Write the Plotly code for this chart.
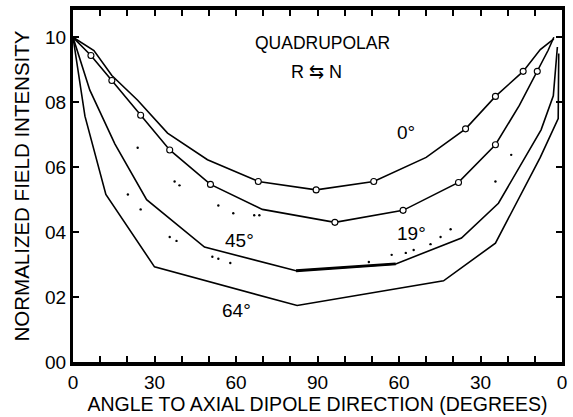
import plotly.graph_objects as go

# Normalized field intensity vs. angle to the axial dipole direction
# (0-90 on one side, back down to 0 on the other => 0..180 internal scale)
x_0 = [0, 7.7, 14.3, 23.8, 34.8, 49.5, 68.2, 89.5, 110.7, 130, 144.5, 155.5, 165.7, 172, 177]
y_0 = [1.0, 0.959, 0.882, 0.806, 0.705, 0.623, 0.556, 0.53, 0.556, 0.63, 0.718, 0.818, 0.895, 0.962, 0.995]

x_19 = [0, 6.6, 14.3, 24.9, 35.6, 50.6, 69.7, 96.4, 121.5, 141.9, 155.5, 164.3, 170.9, 174.9, 177]
y_19 = [1.0, 0.944, 0.867, 0.76, 0.653, 0.547, 0.47, 0.43, 0.467, 0.553, 0.669, 0.79, 0.895, 0.96, 1.0]

x_45 = [0, 6.2, 15.4, 27.1, 48.4, 82.1, 118.8, 143, 156.6, 165, 172.3, 176.8, 178.3]
y_45 = [1.0, 0.837, 0.672, 0.50, 0.354, 0.281, 0.302, 0.382, 0.489, 0.61, 0.715, 0.82, 0.97]

x_64 = [0, 4.4, 12.1, 30, 82.5, 136.4, 155.5, 165, 172, 178.6, 178.8]
y_64 = [1.0, 0.757, 0.516, 0.293, 0.174, 0.25, 0.366, 0.52, 0.63, 0.75, 0.95]

# open-circle data points on the 0 and 19 degree curves
circ_x_0 = [68.2, 89.5, 110.7, 144.5, 155.5, 165.7]
circ_y_0 = [0.556, 0.53, 0.556, 0.718, 0.818, 0.895]
circ_x_19 = [6.6, 14.3, 24.9, 35.6, 50.6, 96.4, 121.5, 141.9, 155.5, 170.9]
circ_y_19 = [0.944, 0.867, 0.76, 0.653, 0.547, 0.43, 0.467, 0.553, 0.669, 0.895]

# scattered dotted measurements
dot_x = [23.8, 37.4, 39.2, 53.5, 59, 66.7, 68.6, 122.5, 125.4, 131.6, 135.3, 139, 155.5, 161.3,
         20.2, 24.9, 35.6, 38.1, 51.3, 53.5, 57.9, 108.9, 117.3]
dot_y = [0.66, 0.556, 0.544, 0.482, 0.458, 0.452, 0.452, 0.336, 0.345, 0.363, 0.385, 0.409, 0.556, 0.638,
         0.516, 0.47, 0.385, 0.373, 0.324, 0.318, 0.305, 0.308, 0.33]

x_tick_vals = list(range(0, 181, 10))
x_tick_text = ["0", "", "", "30", "", "", "60", "", "", "90", "", "", "60", "", "", "30", "", "", "0"]
y_tick_vals = [0, 0.2, 0.4, 0.6, 0.8, 1.0]
y_tick_text = ["00", "02", "04", "06", "08", "10"]

curve_labels = [("0°", 122.5, 0.708), ("19°", 124.7, 0.397), ("45°", 61.2, 0.373), ("64°", 60.1, 0.159)]

FONT = "Liberation Sans, Arial, sans-serif"
INK = "black"

fig = go.Figure()
for xs, ys in [(x_0, y_0), (x_19, y_19), (x_45, y_45), (x_64, y_64)]:
    fig.add_trace(go.Scatter(x=xs, y=ys, mode="lines",
                             line=dict(color=INK, width=1.6), hoverinfo="skip"))

# heavier stretch along the bottom of the 45 degree curve
fig.add_trace(go.Scatter(x=x_45[5:7], y=y_45[5:7], mode="lines",
                         line=dict(color=INK, width=2.8), hoverinfo="skip"))

fig.add_trace(go.Scatter(x=dot_x, y=dot_y, mode="markers",
                         marker=dict(color=INK, size=2.4, symbol="circle"), hoverinfo="skip"))

for cx, cy in [(circ_x_0, circ_y_0), (circ_x_19, circ_y_19)]:
    fig.add_trace(go.Scatter(x=cx, y=cy, mode="markers",
                             marker=dict(color="white", size=6, symbol="circle",
                                         line=dict(color=INK, width=1.1)),
                             hoverinfo="skip"))

for text, lx, ly in curve_labels:
    fig.add_annotation(x=lx, y=ly, text=text, showarrow=False,
                       font=dict(family=FONT, size=19, color=INK))

fig.add_annotation(x=91.7, y=0.983, text="QUADRUPOLAR", showarrow=False,
                   font=dict(family=FONT, size=17.5, color=INK))
fig.add_annotation(x=89.5, y=0.892, text="R ⇆ N", showarrow=False,
                   font=dict(family=FONT, size=18, color=INK))

fig.update_layout(
    width=573, height=417,
    margin=dict(l=73, r=10, t=6, b=55),
    paper_bgcolor="white", plot_bgcolor="white",
    showlegend=False,
    font=dict(family=FONT, color=INK, size=18),
)
fig.update_xaxes(
    range=[0, 180], tickmode="array", tickvals=x_tick_vals, ticktext=x_tick_text,
    ticks="inside", ticklen=6, tickwidth=1.5, tickcolor=INK,
    showline=True, linewidth=3.5, linecolor=INK, mirror="ticks",
    showgrid=False, zeroline=False,
    tickfont=dict(family=FONT, size=19, color=INK),
    title=dict(text="ANGLE TO AXIAL DIPOLE DIRECTION (DEGREES)", standoff=5,
               font=dict(family=FONT, size=19.5, color=INK)),
)
fig.update_yaxes(
    range=[0, 1.084], tickmode="array", tickvals=y_tick_vals, ticktext=y_tick_text,
    ticks="inside", ticklen=6, tickwidth=1.5, tickcolor=INK,
    showline=True, linewidth=3, linecolor=INK, mirror="ticks",
    showgrid=False, zeroline=False,
    tickfont=dict(family=FONT, size=19, color=INK),
    title=dict(text="NORMALIZED FIELD INTENSITY", standoff=10,
               font=dict(family=FONT, size=20.5, color=INK)),
)

fig.write_html("out.html")
